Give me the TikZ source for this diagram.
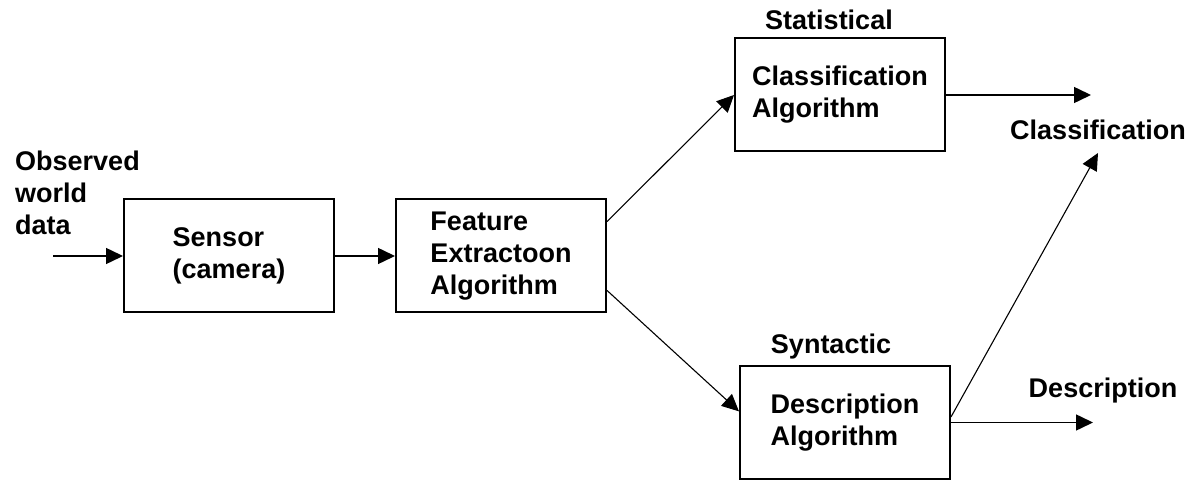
\documentclass[tikz,border=0pt]{standalone}
\usepackage{fontspec}
\setmainfont{Liberation Sans}
\usetikzlibrary{arrows.meta}

\begin{document}
\begin{tikzpicture}[x=1pt, y=-1pt, >={Triangle[length=17pt,width=16pt]},
					box/.style={draw, line width=2pt, minimum width=210pt, minimum height=113pt, align=left, inner sep=0pt},
					lbl/.style={inner sep=2pt, align=left},
					font=\fontsize{27}{32}\selectfont\bfseries]
	\useasboundingbox (0,0) rectangle (1203,481);
	% blocks
	\node[box] (sensor) at (229,256) {Sensor\\(camera)};
	\node[box] (feature) at (501,256) {Feature\\Extractoon\\Algorithm};
	\node[box] (classifier) at (840,95) {Classification\\Algorithm};
	\node[box] (descriptor) at (845,422.5) {Description\\Algorithm};
	% texts
	\node[lbl, anchor=base west] (observed) at (13,235) {Observed\\world\\data};
	\node[lbl, anchor=base] (statistical) at (829,30) {Statistical};
	\node[lbl, anchor=base] (syntactic) at (831,353) {Syntactic};
	\node[lbl, anchor=base] (classlabel) at (1098,140) {Classification};
	\node[lbl, anchor=base] (desclabel) at (1103,397) {Description};
	% free ends
	\coordinate (in) at (53,256);
	\coordinate (classout) at (1091,95);
	\coordinate (classin) at (1098,153);
	\coordinate (descout) at (1093,422.5);
	% connectors
	\draw[->, line width=1.5pt] (in) -- (sensor.west);
	\draw[->, line width=1.5pt] (sensor.east) -- (feature.west);
	\draw[->, line width=1.1pt] (feature.18) -- (classifier.west);
	\draw[->, line width=1.1pt] (feature.-18) -- (descriptor.174);
	\draw[->, line width=1.5pt] (classifier.east) -- (classout);
	\draw[->, line width=1.1pt] (descriptor.3) -- (classin);
	\draw[->, line width=1.5pt] (descriptor.east) -- (descout);
\end{tikzpicture}
\end{document}
